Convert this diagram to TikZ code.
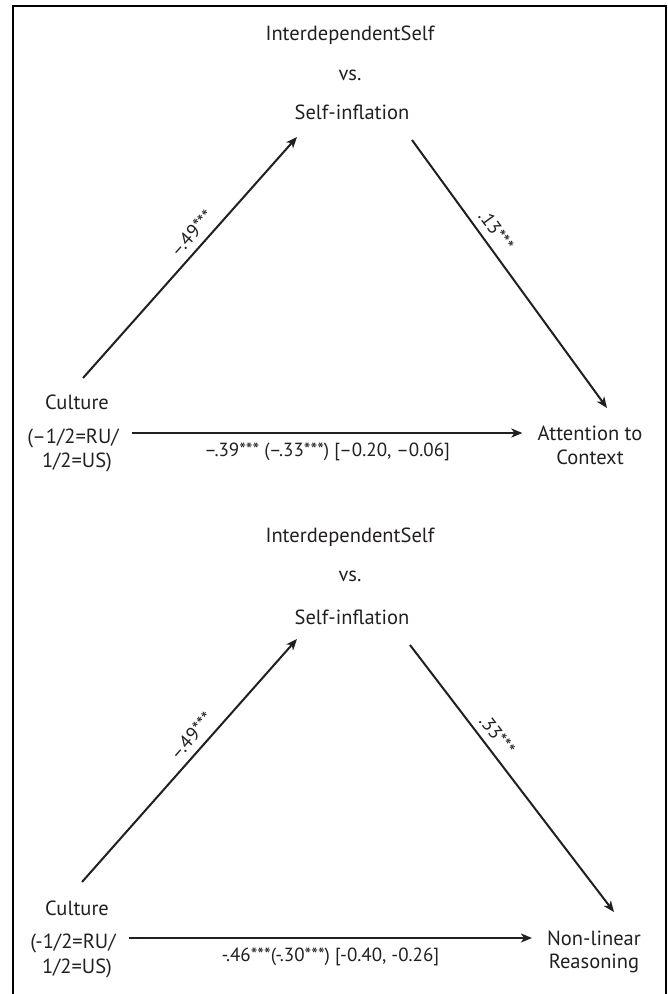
\documentclass[tikz,border=0pt]{standalone}
\usepackage{fontspec}
\setmainfont{PT Sans}
\usetikzlibrary{positioning, arrows.meta, calc}
\definecolor{ink}{RGB}{35,31,32}
\tikzset{
    lbl/.style={font=\fontsize{20.5}{24}\selectfont, text=ink, inner sep=3pt},
    coef/.style={font=\fontsize{19}{22}\selectfont, text=ink, inner sep=3pt},
    patharrow/.style={draw=ink, line width=2pt, -{Stealth[length=11pt, width=9pt, inset=3pt]}},
}

\begin{document}
\begin{tikzpicture}[x=1pt, y=-1pt]
    \useasboundingbox (0,0) rectangle (668,994);
    \draw[line width=2pt] (13,994) -- (13,6) -- (666,6) -- (666,994);

    \node[lbl] (ind1) at (350,35) {InterdependentSelf};
    \node[lbl] (vs1) at (350,75) {vs.};
    \node[lbl] (med1) at (352,112) {Self-inflation};
    \node[lbl] (cult1) at (77,402) {Culture};
    \node[lbl] (ru1) at (73,438) {(–1/2=RU/};
    \node[lbl] (us1) at (77,462) {1/2=US)};
    \node[lbl] (ctx1a) at (590,433) {Attention to};
    \node[lbl] (ctx1b) at (590,457) {Context};
    \coordinate (a1s) at (83,378);
    \coordinate (a1e) at (297,137);
    \coordinate (b1s) at (412,140);
    \coordinate (b1e) at (607,408);
    \draw[patharrow] (a1s) -- node[coef, above=4pt, sloped, pos=0.56] {–.49***} (a1e);
    \draw[patharrow] (b1s) -- node[coef, above=4pt, sloped, pos=0.37] {.13***} (b1e);
    \draw[patharrow] ([xshift=10pt]ru1.east |- ctx1a) -- node[coef, below=6pt] {–.39*** (–.33***) [–0.20, –0.06]} ([xshift=-12pt]ctx1a.west);

    \node[lbl] (ind2) at (350,537) {InterdependentSelf};
    \node[lbl] (vs2) at (350,576) {vs.};
    \node[lbl] (med2) at (352,617) {Self-inflation};
    \node[lbl] (cult2) at (77,908) {Culture};
    \node[lbl] (ru2) at (73,943) {(-1/2=RU/};
    \node[lbl] (us2) at (77,968) {1/2=US)};
    \node[lbl] (nl2a) at (594,938) {Non-linear};
    \node[lbl] (nl2b) at (594,963) {Reasoning};
    \coordinate (a2s) at (82,882);
    \coordinate (a2e) at (297,639);
    \coordinate (b2s) at (410,645);
    \coordinate (b2e) at (614,912);
    \draw[patharrow] (a2s) -- node[coef, above=4pt, sloped, pos=0.56] {–.49***} (a2e);
    \draw[patharrow] (b2s) -- node[coef, above=4pt, sloped, pos=0.37] {.33***} (b2e);
    \draw[patharrow] ([xshift=10pt]ru2.east |- nl2a) -- node[coef, below=6pt] {-.46***(-.30***) [-0.40, -0.26]} ([xshift=-12pt]nl2a.west);
\end{tikzpicture}
\end{document}
